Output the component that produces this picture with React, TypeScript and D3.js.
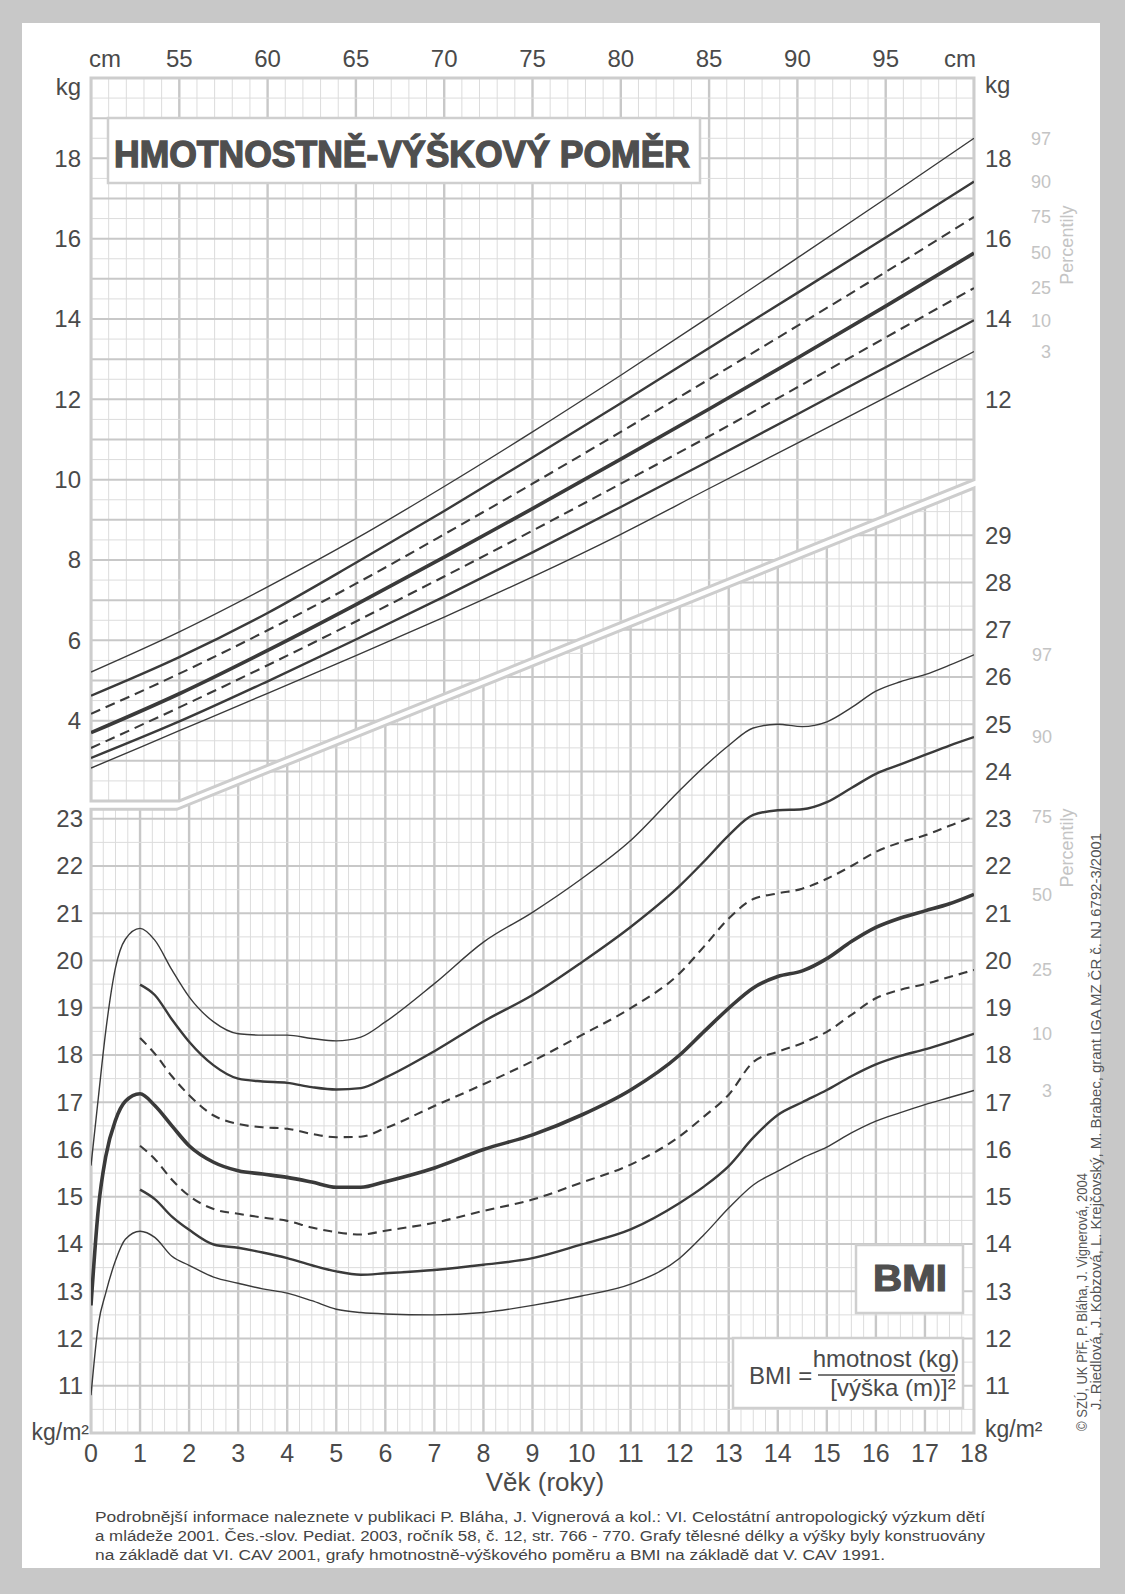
import React from 'react';
import * as d3 from 'd3';

// weight-for-height percentiles (kg) by body length (cm)
const heightCm = [50, 55, 60, 65, 70, 75, 80, 85, 90, 95, 100];
const wfh97 = [5.21, 6.21, 7.33, 8.53, 9.83, 11.19, 12.6, 14.05, 15.52, 17.0, 18.5];
const wfh90 = [4.62, 5.58, 6.68, 7.93, 9.22, 10.55, 11.9, 13.28, 14.65, 16.03, 17.42];
const wfh75 = [4.17, 5.17, 6.25, 7.41, 8.64, 9.9, 11.19, 12.5, 13.83, 15.17, 16.54];
const wfh50 = [3.7, 4.67, 5.75, 6.89, 8.07, 9.28, 10.51, 11.76, 13.03, 14.32, 15.64];
const wfh25 = [3.32, 4.33, 5.38, 6.47, 7.59, 8.73, 9.9, 11.08, 12.3, 13.54, 14.77];
const wfh10 = [3.07, 3.98, 4.98, 6.02, 7.09, 8.19, 9.32, 10.47, 11.63, 12.8, 13.97];
const wfh3 = [2.82, 3.75, 4.68, 5.62, 6.58, 7.58, 8.64, 9.78, 10.91, 12.05, 13.19];

// BMI percentiles by age (years)
const ageYears = [0, 0.15, 0.3, 0.5, 0.7, 1, 1.3, 1.65, 2, 2.5, 3, 3.5, 4, 4.5, 5, 5.5, 6, 7, 8, 9, 10, 11, 12, 12.5, 13, 13.5, 14, 14.5, 15, 15.5, 16, 16.5, 17, 17.5, 18];
const bmi97 = [15.66, 17.1, 18.5, 19.85, 20.45, 20.68, 20.43, 19.8, 19.23, 18.7, 18.45, 18.42, 18.42, 18.35, 18.3, 18.38, 18.7, 19.51, 20.39, 21.02, 21.73, 22.54, 23.6, 24.1, 24.55, 24.92, 25.0, 24.95, 25.05, 25.35, 25.7, 25.9, 26.05, 26.25, 26.47];
const bmi90 = [null, null, null, null, null, 19.49, 19.27, 18.75, 18.28, 17.78, 17.5, 17.44, 17.41, 17.32, 17.27, 17.3, 17.52, 18.08, 18.71, 19.27, 19.96, 20.71, 21.58, 22.1, 22.65, 23.08, 23.18, 23.2, 23.35, 23.65, 23.95, 24.15, 24.35, 24.55, 24.73];
const bmi75 = [null, null, null, null, null, 18.36, 18.03, 17.55, 17.15, 16.72, 16.54, 16.47, 16.44, 16.33, 16.26, 16.27, 16.45, 16.92, 17.38, 17.87, 18.42, 18.99, 19.73, 20.3, 20.89, 21.3, 21.42, 21.52, 21.73, 22.0, 22.3, 22.5, 22.65, 22.85, 23.05];
const bmi50 = [12.7, 14.75, 15.85, 16.62, 17.02, 17.18, 16.93, 16.5, 16.08, 15.73, 15.55, 15.48, 15.41, 15.31, 15.2, 15.2, 15.32, 15.61, 16.0, 16.31, 16.73, 17.26, 18.0, 18.5, 18.99, 19.42, 19.66, 19.78, 20.04, 20.4, 20.7, 20.9, 21.05, 21.2, 21.4];
const bmi25 = [null, null, null, null, null, 16.08, 15.8, 15.36, 15.02, 14.74, 14.64, 14.56, 14.49, 14.35, 14.25, 14.2, 14.28, 14.45, 14.7, 14.94, 15.3, 15.68, 16.28, 16.7, 17.16, 17.85, 18.07, 18.25, 18.49, 18.85, 19.2, 19.38, 19.5, 19.65, 19.8];
const bmi10 = [null, null, null, null, null, 15.15, 14.95, 14.58, 14.3, 13.99, 13.92, 13.82, 13.7, 13.55, 13.42, 13.35, 13.38, 13.45, 13.56, 13.7, 13.99, 14.31, 14.87, 15.22, 15.65, 16.25, 16.73, 17.0, 17.26, 17.55, 17.8, 17.98, 18.12, 18.28, 18.45];
const bmi3 = [10.8, 12.3, 12.96, 13.65, 14.1, 14.27, 14.14, 13.74, 13.55, 13.3, 13.17, 13.05, 12.96, 12.8, 12.62, 12.55, 12.52, 12.5, 12.55, 12.7, 12.9, 13.15, 13.7, 14.2, 14.76, 15.25, 15.54, 15.82, 16.05, 16.35, 16.6, 16.78, 16.95, 17.1, 17.25];

const percentiles = ['97', '90', '75', '50', '25', '10', '3'];
const cmTicks = [55, 60, 65, 70, 75, 80, 85, 90, 95];
const kgTicksLeft = [4, 6, 8, 10, 12, 14, 16, 18];
const kgTicksRight = [12, 14, 16, 18];
const bmiTicksLeft = [11, 12, 13, 14, 15, 16, 17, 18, 19, 20, 21, 22, 23];
const bmiTicksRight = [11, 12, 13, 14, 15, 16, 17, 18, 19, 20, 21, 22, 23, 24, 25, 26, 27, 28, 29];
const ageTicks = d3.range(0, 19);

const footnote = [
  'Podrobnější informace naleznete v publikaci P. Bláha, J. Vignerová a kol.: VI. Celostátní antropologický výzkum dětí',
  'a mládeže 2001. Čes.-slov. Pediat. 2003, ročník 58, č. 12, str. 766 - 770. Grafy tělesné délky a výšky byly konstruovány',
  'na základě dat VI. CAV 2001, grafy hmotnostně-výškového poměru a BMI na základě dat V. CAV 1991.',
];

const FONT = '"Liberation Sans", Arial, Helvetica, sans-serif';
const INK = '#3a3a3a';
const LABEL = '#4a4a4a';
const PALE = '#c4c4c4';

const styleFor = {
  '97': { w: 1.4, dash: null },
  '90': { w: 2.4, dash: null },
  '75': { w: 2.1, dash: '10 6' },
  '50': { w: 3.6, dash: null },
  '25': { w: 2.1, dash: '10 6' },
  '10': { w: 2.4, dash: null },
  '3': { w: 1.4, dash: null },
};

export default function App() {
  const W = 1125;
  const H = 1594;
  const L = 91;
  const R = 974;

  const xCm = d3.scaleLinear().domain([50, 100]).range([L, R]);
  const yKg = d3.scaleLinear().domain([2, 20]).range([801, 78]);
  const xAge = d3.scaleLinear().domain([0, 18]).range([L, R]);
  const yBmi = d3.scaleLinear().domain([10, 30]).range([1433, 488]);

  const upperPoly = [[L, yKg(20)], [R, yKg(20)], [R, yKg(10)], [xCm(55), yKg(2)], [L, yKg(2)]];
  const lowerPoly = [[L, yBmi(23.2)], [xAge(1.75), yBmi(23.2)], [R, yBmi(30)], [R, yBmi(10)], [L, yBmi(10)]];
  const polyPath = (pts: number[][]) => 'M' + pts.map((p) => p.join(',')).join('L') + 'Z';

  const wfhLine = d3
    .line<number>()
    .x((_, i) => xCm(heightCm[i]))
    .y((d) => yKg(d))
    .curve(d3.curveMonotoneX);

  const bmiLine = d3
    .line<number | null>()
    .defined((d) => d != null)
    .x((_, i) => xAge(ageYears[i]))
    .y((d) => yBmi(d as number))
    .curve(d3.curveMonotoneX);

  const wfhSeries = [wfh97, wfh90, wfh75, wfh50, wfh25, wfh10, wfh3];
  const bmiSeries = [bmi97, bmi90, bmi75, bmi50, bmi25, bmi10, bmi3];

  const major = '#c8c8c8';
  const minor = '#dcdcdc';

  return (
    <div style={{ position: 'absolute', left: 0, top: 0 }}>
      <svg width={W} height={H} style={{ display: 'block', fontFamily: FONT }}>
        <defs>
          <clipPath id="clipUpper">
            <path d={polyPath(upperPoly)} />
          </clipPath>
          <clipPath id="clipLower">
            <path d={polyPath(lowerPoly)} />
          </clipPath>
        </defs>

        <rect x={0} y={0} width={W} height={H} fill="#c8c8c8" />
        <rect x={22} y={23} width={1078} height={1545} fill="#ffffff" />

        {/* upper grid */}
        <g clipPath="url(#clipUpper)">
          {d3.range(50, 100.01, 1).map((c) => (
            <line key={'uv' + c} x1={xCm(c)} x2={xCm(c)} y1={yKg(20)} y2={yKg(2)}
              stroke={c % 5 === 0 ? major : minor} strokeWidth={c % 5 === 0 ? 2.4 : 1} />
          ))}
          {d3.range(2, 20.01, 0.5).map((k) => (
            <line key={'uh' + k} x1={L} x2={R} y1={yKg(k)} y2={yKg(k)}
              stroke={k % 1 === 0 ? major : minor} strokeWidth={k % 1 === 0 ? 2 : 1} />
          ))}
        </g>
        <path d={polyPath(upperPoly)} fill="none" stroke="#cdcdcd" strokeWidth={3} />

        {/* lower grid */}
        <g clipPath="url(#clipLower)">
          {d3.range(0, 18.01, 0.25).map((a) => (
            <line key={'lv' + a} x1={xAge(a)} x2={xAge(a)} y1={yBmi(30)} y2={yBmi(10)}
              stroke={a % 1 === 0 ? major : minor} strokeWidth={a % 1 === 0 ? 2.4 : 1} />
          ))}
          {d3.range(10, 30.01, 0.5).map((b) => (
            <line key={'lh' + b} x1={L} x2={R} y1={yBmi(b)} y2={yBmi(b)}
              stroke={b % 1 === 0 ? major : minor} strokeWidth={b % 1 === 0 ? 2 : 1} />
          ))}
        </g>
        <path d={polyPath(lowerPoly)} fill="none" stroke="#cdcdcd" strokeWidth={3} />

        {/* title box */}
        <rect x={108} y={118} width={592} height={65} fill="#fff" stroke="#cfcfcf" strokeWidth={2.5} />
        <text x={114} y={167} fontSize={37} fontWeight={900} fill="#4f4f4f" stroke="#4f4f4f" strokeWidth={1.4}
          textLength={576} lengthAdjust="spacingAndGlyphs">HMOTNOSTNĚ-VÝŠKOVÝ POMĚR</text>

        {/* BMI boxes */}
        <rect x={856} y={1245} width={107} height={68} fill="#fff" stroke="#cfcfcf" strokeWidth={2.5} />
        <text x={910} y={1291} fontSize={36} fontWeight={900} fill="#4f4f4f" stroke="#4f4f4f" strokeWidth={1.2}
          textAnchor="middle" textLength={74} lengthAdjust="spacingAndGlyphs">BMI</text>
        <rect x={733} y={1338} width={230} height={70} fill="#fff" stroke="#cfcfcf" strokeWidth={2.5} />
        <text x={749} y={1384} fontSize={24} fill={LABEL}>BMI =</text>
        <text x={886} y={1367} fontSize={24} fill={LABEL} textAnchor="middle">hmotnost (kg)</text>
        <line x1={818} x2={955} y1={1375} y2={1375} stroke={LABEL} strokeWidth={1.6} />
        <text x={893} y={1396} fontSize={24} fill={LABEL} textAnchor="middle">[výška (m)]²</text>

        {/* weight-for-height curves */}
        <g clipPath="url(#clipUpper)">
          {wfhSeries.map((s, i) => (
            <path key={'w' + i} d={wfhLine(s) || ''} fill="none" stroke={INK}
              strokeWidth={styleFor[percentiles[i]].w}
              strokeDasharray={styleFor[percentiles[i]].dash || undefined} />
          ))}
        </g>

        {/* BMI curves */}
        <g clipPath="url(#clipLower)">
          {bmiSeries.map((s, i) => (
            <path key={'b' + i} d={bmiLine(s) || ''} fill="none" stroke={INK}
              strokeWidth={styleFor[percentiles[i]].w}
              strokeDasharray={styleFor[percentiles[i]].dash ? '9 6' : undefined} />
          ))}
        </g>

        {/* top cm axis */}
        <text x={L - 2} y={67} fontSize={24} fill={LABEL}>cm</text>
        <text x={R + 2} y={67} fontSize={24} fill={LABEL} textAnchor="end">cm</text>
        {cmTicks.map((c) => (
          <text key={'cm' + c} x={xCm(c)} y={67} fontSize={24} fill={LABEL} textAnchor="middle">{c}</text>
        ))}

        {/* kg axes */}
        <text x={81} y={95} fontSize={24} fill={LABEL} textAnchor="end">kg</text>
        <text x={985} y={93} fontSize={24} fill={LABEL}>kg</text>
        {kgTicksLeft.map((k) => (
          <text key={'kl' + k} x={81} y={yKg(k)} dy="0.35em" fontSize={24} fill={LABEL} textAnchor="end">{k}</text>
        ))}
        {kgTicksRight.map((k) => (
          <text key={'kr' + k} x={985} y={yKg(k)} dy="0.35em" fontSize={24} fill={LABEL}>{k}</text>
        ))}

        {/* BMI axes */}
        {bmiTicksLeft.map((b) => (
          <text key={'bl' + b} x={83} y={yBmi(b)} dy="0.35em" fontSize={24} fill={LABEL} textAnchor="end">{b}</text>
        ))}
        {bmiTicksRight.map((b) => (
          <text key={'br' + b} x={985} y={yBmi(b)} dy="0.35em" fontSize={24} fill={LABEL}>{b}</text>
        ))}
        <text x={89} y={1440} fontSize={23} fill={LABEL} textAnchor="end">kg/m²</text>
        <text x={985} y={1437} fontSize={23} fill={LABEL}>kg/m²</text>

        {/* age axis */}
        {ageTicks.map((a) => (
          <text key={'a' + a} x={xAge(a)} y={1462} fontSize={25} fill={LABEL} textAnchor="middle">{a}</text>
        ))}
        <text x={545} y={1491} fontSize={26} fill={LABEL} textAnchor="middle">Věk (roky)</text>

        {/* percentile labels */}
        {wfhSeries.map((s, i) => (
          <text key={'pw' + i} x={1051} y={yKg(s[s.length - 1])} dy="0.35em" fontSize={18} fill={PALE}
            textAnchor="end">{percentiles[i]}</text>
        ))}
        <text transform={`translate(1073,${yKg(wfh50[wfh50.length - 1]) - 8}) rotate(-90)`} fontSize={18}
          fill={PALE} textAnchor="middle">Percentily</text>
        {bmiSeries.map((s, i) => (
          <text key={'pb' + i} x={1052} y={yBmi(s[s.length - 1] as number)} dy="0.35em" fontSize={18} fill={PALE}
            textAnchor="end">{percentiles[i]}</text>
        ))}
        <text transform="translate(1073,848) rotate(-90)" fontSize={18} fill={PALE}
          textAnchor="middle">Percentily</text>

        {/* side credits */}
        <text transform="translate(1087,1431) rotate(-90)" fontSize={14.5} fill="#555"
          textLength={258} lengthAdjust="spacingAndGlyphs">© SZÚ, UK PřF, P. Bláha, J. Vignerová, 2004</text>
        <text transform="translate(1101,1410) rotate(-90)" fontSize={14.5} fill="#555"
          textLength={577} lengthAdjust="spacingAndGlyphs">J. Riedlová, J. Kobzová, L. Krejčovský, M. Brabec, grant IGA MZ ČR č. NJ 6792-3/2001</text>

        {/* footnote */}
        {footnote.map((t, i) => (
          <text key={'f' + i} x={95} y={1522 + i * 19} fontSize={15.5} fill="#444"
            textLength={i < 2 ? 890 : 790} lengthAdjust="spacingAndGlyphs">{t}</text>
        ))}
      </svg>
    </div>
  );
}
